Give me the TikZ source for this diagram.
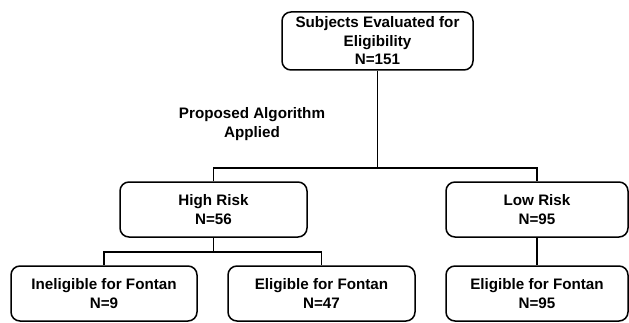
\documentclass[tikz,border=0pt]{standalone}
\usepackage{fontspec}
\setmainfont{Liberation Sans}
\usepackage{tikz}
\usetikzlibrary{calc,positioning}

\begin{document}
\begin{tikzpicture}[x=1pt,y=1pt,line width=1.5pt,
  every node/.style={font=\fontsize{15.2}{18.5}\selectfont\bfseries,align=center},
  stage/.style={draw,rounded corners=9pt,minimum width=#1,minimum height=55pt,inner sep=0pt},
  stage/.default=187pt]
\useasboundingbox (0,0) rectangle (629,322);
\node[stage=191pt,minimum height=58pt] (top) at (377.5,281) {Subjects Evaluated for\\Eligibility\\N=151};
\node (alg) at (252,198) {Proposed Algorithm\\Applied};
\node[stage] (high) at (213.5,112.5) {High Risk\\N=56};
\node[stage=182pt] (low) at (537,112.5) {Low Risk\\N=95};
\node[stage=186pt] (inel) at (104,28.5) {Ineligible for Fontan\\N=9};
\node[stage] (elig) at (321.5,28.5) {Eligible for Fontan\\N=47};
\node[stage=182pt] (eligr) at (537,28.5) {Eligible for Fontan\\N=95};
\coordinate (bus1) at (377.5,154);
\coordinate (bus2) at (213.5,70);
\draw (top) -- (bus1);
\draw (high.north) |- (bus1) -| (low.north);
\draw (high) -- (bus2);
\draw (inel.north) |- (bus2) -| (elig.north);
\draw (low) -- (eligr);
\end{tikzpicture}
\end{document}
